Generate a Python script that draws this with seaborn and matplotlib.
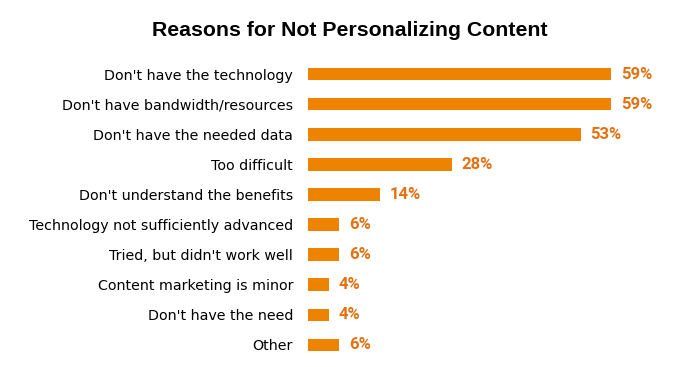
import matplotlib
matplotlib.use("Agg")
import matplotlib.pyplot as plt
import seaborn as sns
import pandas as pd

reasons = [
    "Don't have the technology",
    "Don't have bandwidth/resources",
    "Don't have the needed data",
    "Too difficult",
    "Don't understand the benefits",
    "Technology not sufficiently advanced",
    "Tried, but didn't work well",
    "Content marketing is minor",
    "Don't have the need",
    "Other",
]
percent = [59, 59, 53, 28, 14, 6, 6, 4, 4, 6]

bar_color = "#EE8300"
label_color = "#E4700F"

sns.set_style("white")
plt.rcParams['font.family'] = ['DejaVu Sans']

df = pd.DataFrame({"reason": reasons, "percent": percent})

fig = plt.figure(figsize=(6.88, 3.67), dpi=100)
ax = fig.add_axes([308 / 688, 7 / 367, 360 / 688, 301 / 367])

sns.barplot(data=df, x="percent", y="reason", color=bar_color,
            width=0.42, saturation=1, linewidth=0, ax=ax)

# value labels at the end of each bar
for i, v in enumerate(percent):
    ax.text(v + 1.9, i, f"{v}%", va="center", ha="left", color=label_color,
            fontsize=12, fontweight="bold", family="Roboto")

ax.set_xlim(0, 70)
ax.set_ylim(9.5, -0.5)
ax.set_xlabel("")
ax.set_ylabel("")
ax.set_xticks([])
ax.tick_params(axis="y", length=0, pad=10.8, labelsize=10.3, labelcolor="black")
sns.despine(ax=ax, left=True, bottom=True)

fig.text(350 / 688, 1 - 36 / 367, "Reasons for Not Personalizing Content",
         ha="center", va="baseline", fontsize=15.3, fontweight="bold",
         color="black", family="Liberation Sans")

fig.savefig("out.png", dpi=100)
